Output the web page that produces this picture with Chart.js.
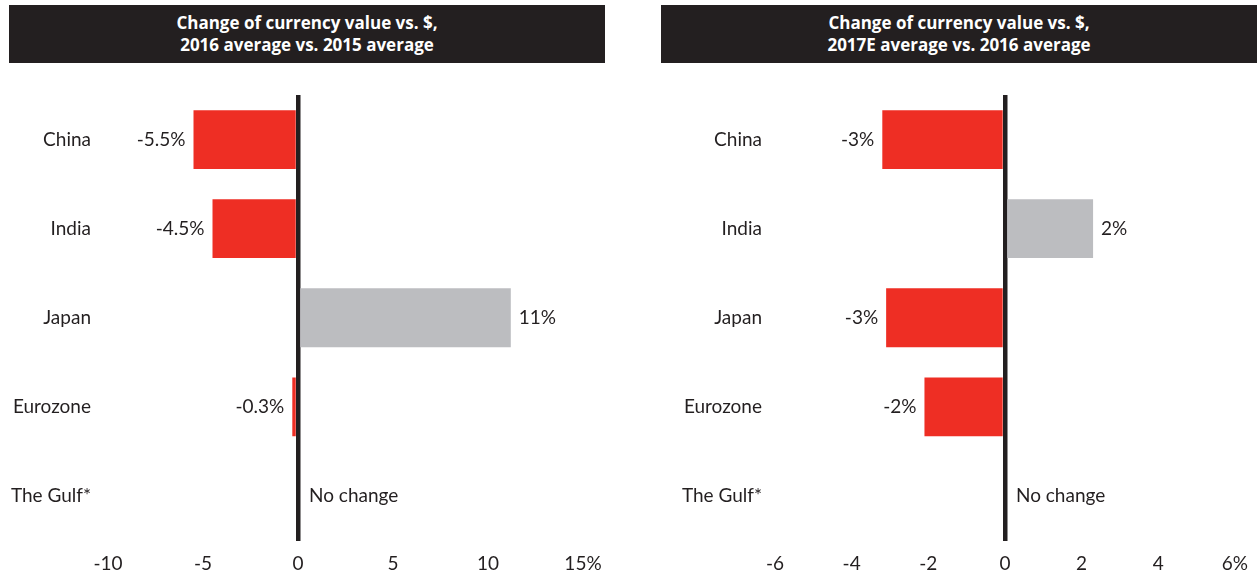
<!DOCTYPE html>
<html>
<head>
<meta charset="utf-8">
<script src="https://cdn.jsdelivr.net/npm/chart.js@4.4.1/dist/chart.umd.min.js"></script>
<style>
  body { margin: 0; background: #fff; }
  .title {
    position: absolute; top: 5px; width: 596px; height: 58px;
    background: #231f20; color: #fff; text-align: center;
    font-family: "Liberation Sans Narrow", "Open Sans", sans-serif; font-weight: bold;
    font-size: 17px; line-height: 22px; padding-top: 7px; box-sizing: border-box;
  }
  .box { position: absolute; top: 0; width: 630px; height: 577px; }
</style>
</head>
<body>
<div class="title" style="left:9px">Change of currency value vs. $,<br>2016 average vs. 2015 average</div>
<div class="title" style="left:661px">Change of currency value vs. $,<br>2017E average vs. 2016 average</div>
<div class="box" style="left:0"><canvas id="left"></canvas></div>
<div class="box" style="left:630px"><canvas id="right"></canvas></div>
<script>
const countries = ['China', 'India', 'Japan', 'Eurozone', 'The Gulf*'];

const change2016 = [-5.5, -4.5, 11.2, -0.3, 0];
const text2016 = ['-5.5%', '-4.5%', '11%', '-0.3%', 'No change'];
const ticks2016 = ['-10', '-5', '0', '5', '10', '15%'];

const change2017 = [-3.2, 2.3, -3.1, -2.1, 0];
const text2017 = ['-3%', '2%', '-3%', '-2%', 'No change'];
const ticks2017 = ['-6', '-4', '-2', '0', '2', '4', '6%'];

const RED = '#ee2e24';
const GREY = '#bcbdc0';
const INK = '#231f20';
const FONT = {family: 'Lato, "Open Sans", sans-serif', size: 19};

// value labels next to the bars
const barText = {
  id: 'barText',
  afterDatasetsDraw(chart, args, opts) {
    const ctx = chart.ctx;
    const meta = chart.getDatasetMeta(0);
    const vals = chart.data.datasets[0].data;
    ctx.save();
    ctx.font = FONT.size + 'px ' + FONT.family;
    ctx.fillStyle = INK;
    ctx.textBaseline = 'middle';
    meta.data.forEach((bar, i) => {
      const v = vals[i];
      if (v < 0) {
        ctx.textAlign = 'right';
        ctx.fillText(opts.texts[i], bar.x - 8, bar.y);
      } else {
        ctx.textAlign = 'left';
        ctx.fillText(opts.texts[i], bar.x + (v === 0 ? 11 : 8), bar.y);
      }
    });
    ctx.restore();
  }
};

function makeChart(id, values, texts, tickLabels, min, max, step, axisWidth, labelPad, padRight) {
  return new Chart(document.getElementById(id), {
    type: 'bar',
    data: {
      labels: countries,
      datasets: [{
        data: values,
        backgroundColor: c => c.raw < 0 ? RED : GREY,
        barPercentage: 0.66,
        categoryPercentage: 1
      }]
    },
    options: {
      indexAxis: 'y',
      responsive: true,
      maintainAspectRatio: false,
      animation: false,
      layout: {padding: {top: 95, right: padRight, bottom: 0, left: 0}},
      plugins: {
        legend: {display: false},
        tooltip: {enabled: false},
        barText: {texts: texts}
      },
      scales: {
        y: {
          grid: {display: false, drawTicks: false},
          border: {display: false},
          ticks: {color: INK, font: FONT, padding: labelPad},
          afterFit: s => { s.width = axisWidth; }
        },
        x: {
          min: min,
          max: max,
          z: 1,
          border: {display: false},
          grid: {
            drawTicks: false,
            color: c => c.tick && c.tick.value === 0 ? INK : 'rgba(0,0,0,0)',
            lineWidth: 4.5
          },
          ticks: {
            stepSize: step,
            color: INK,
            font: FONT,
            padding: 12,
            callback: (v, i) => tickLabels[i]
          },
          afterFit: s => { s.height = 36.5; }
        }
      }
    },
    plugins: [barText]
  });
}

makeChart('left', change2016, text2016, ticks2016, -10, 15, 5, 108, 17, 47);
makeChart('right', change2017, text2017, ticks2017, -6, 6, 2, 145, 13, 19);
</script>
</body>
</html>
